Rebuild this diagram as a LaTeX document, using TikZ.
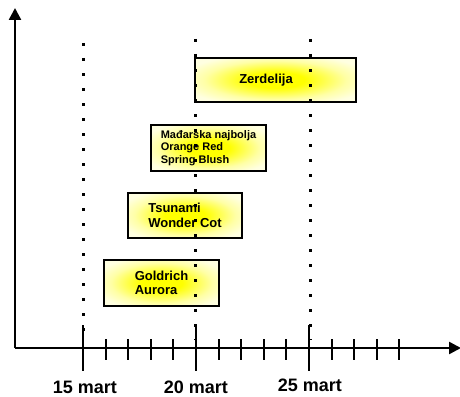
\documentclass[tikz,border=0pt]{standalone}
\usepackage{fontspec}
\setmainfont{Liberation Sans}
\usetikzlibrary{arrows.meta}
\pgfdeclareradialshading{barshade}{\pgfpoint{0bp}{0bp}}{color(0bp)=(yellow); color(9bp)=(yellow); color(22bp)=(yellow!35); color(30bp)=(yellow!12); color(50bp)=(yellow!10)}
\begin{document}
\begin{tikzpicture}[x=1pt,y=-1pt,
  axis/.style={line width=2.5pt},
  bar/.style={draw=black, line width=2.2pt, shading=barshade,
    inner sep=0pt, font=\bfseries\fontsize{13}{14.5}\selectfont, align=left},
  dotline/.style={line width=3pt, dash pattern=on 3pt off 12pt},
  majortick/.style={line width=2.5pt},
  minortick/.style={line width=2pt},
  datelabel/.style={font=\bfseries\fontsize{18}{20}\selectfont, anchor=base}]
\useasboundingbox (0,0) rectangle (460,396);
% axes
\coordinate (O) at (15,348);
\coordinate (ytop) at (15,8);
\coordinate (xend) at (461,348);
\draw[axis,-{Triangle[length=12pt,width=12pt]}] (O) -- (ytop);
\draw[axis,-{Triangle[length=12pt,width=12pt]}] (O) -- (xend);
% ticks
\foreach \k in {1,2,3,4,6,7,8,9,11,12,13,14}
  \draw[minortick] ({83+22.6*\k},339) -- ({83+22.6*\k},360);
\foreach \k in {0,5,10}
  \draw[majortick] ({83+22.6*\k},325) -- ({83+22.6*\k},371);
% date labels
\node[datelabel] (d15) at (85,393) {15 mart};
\node[datelabel] (d20) at (196,393) {20 mart};
\node[datelabel] (d25) at (310,391) {25 mart};
% bars
\node[bar, minimum width=161pt, minimum height=44pt] (zer) at (275.5,80) {};
\node[font=\bfseries\fontsize{13}{14.5}\selectfont] (zerl) at (266,80) {Zerdelija};
\node[bar, minimum width=115pt, minimum height=46pt,
  font=\bfseries\fontsize{11}{12.5}\selectfont] (mad) at (208.5,148)
  {Mađarska najbolja\\Orange Red\\Spring Blush};
\node[bar, minimum width=114pt, minimum height=45pt] (tsu) at (185,215.5)
  {Tsunami\\Wonder Cot};
\node[bar, minimum width=115pt, minimum height=46pt] (gol) at (161.5,283)
  {Goldrich\\Aurora};
% dotted lines
\draw[dotline] (83,43) -- (83,340);
\draw[dotline] (195.5,39) -- (195.5,340);
\draw[dotline] (310,39) -- (310,340);
\end{tikzpicture}
\end{document}
